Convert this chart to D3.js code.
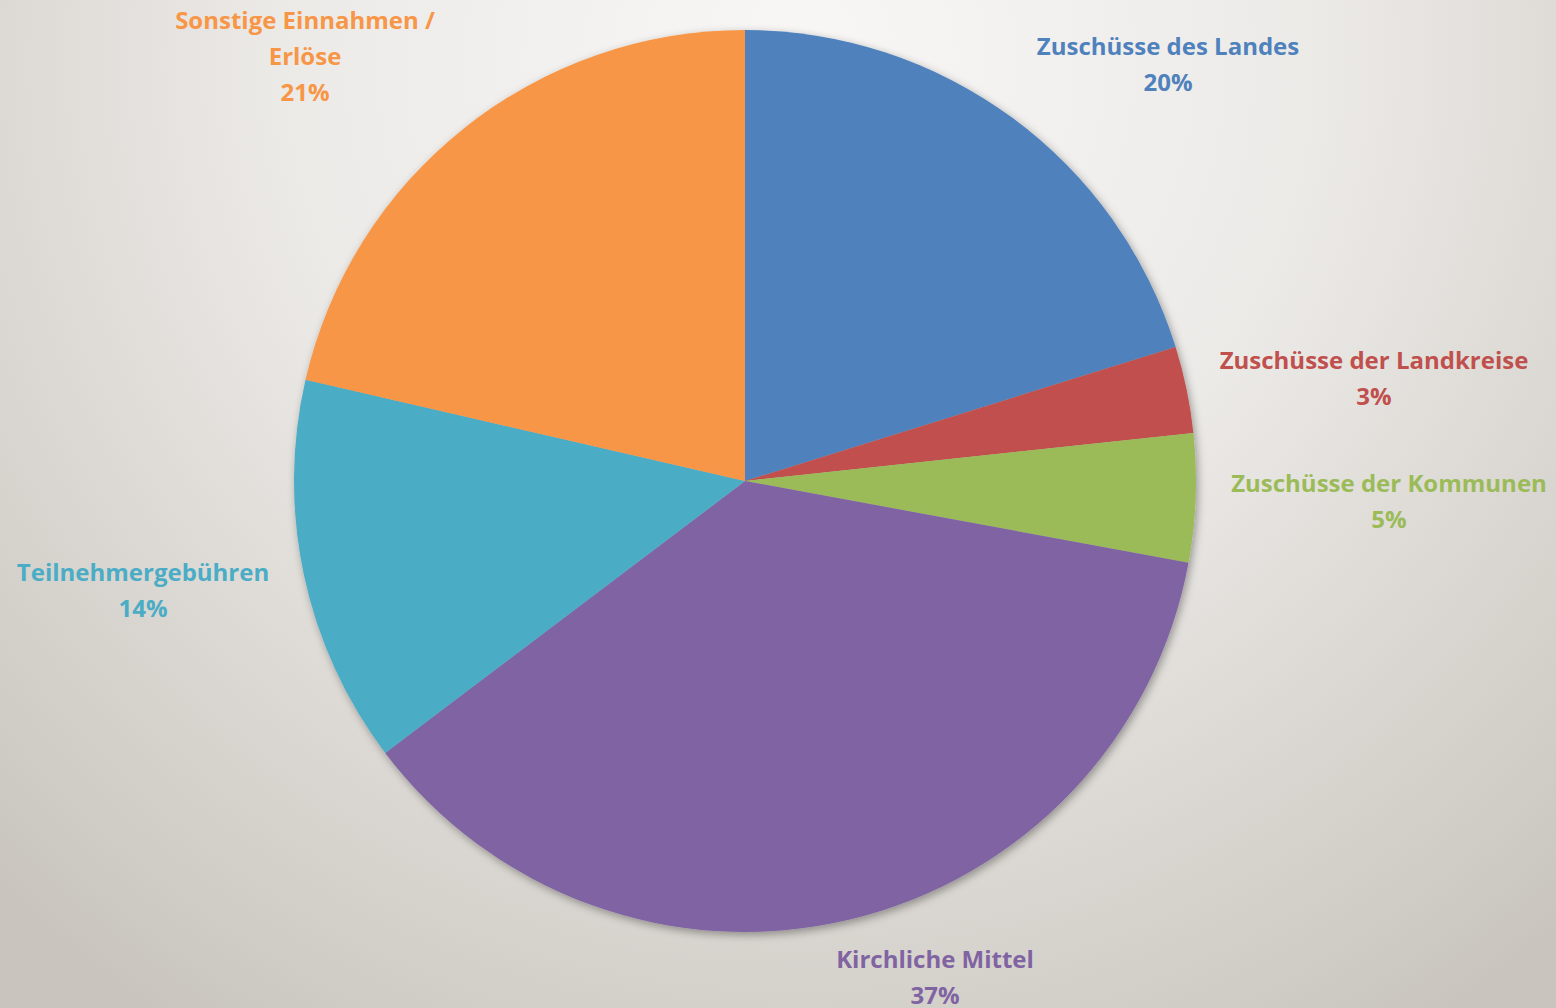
<!DOCTYPE html>
<html lang="de">
<head>
    <meta charset="UTF-8">
    <title>Einnahmen</title>
    <script src="https://d3js.org/d3.v7.min.js"></script>
    <style>
        html, body { margin: 0; padding: 0; overflow: hidden; }
        text { font-family: "Open Sans", Lato, sans-serif; font-weight: bold; }
    </style>
</head>
<body>
    <div id="chart"></div>
    <script>
        // data
        const categories = ["Zuschüsse des Landes", "Zuschüsse der Landkreise", "Zuschüsse der Kommunen",
            "Kirchliche Mittel", "Teilnehmergebühren", "Sonstige Einnahmen / Erlöse"];
        const shares = [20.2, 3.1, 4.6, 36.8, 13.9, 21.4];
        const percentLabels = ["20%", "3%", "5%", "37%", "14%", "21%"];

        const colors = ["#4f81bd", "#c0504d", "#9bbb59", "#8064a2", "#4bacc6", "#f79646"];

        const width = 1556, height = 1008;
        const cx = 745, cy = 481, radius = 451;

        // label text lines and anchor (relative to pie center, middle of text block)
        const labelLines = [
            ["Zuschüsse des Landes"],
            ["Zuschüsse der Landkreise"],
            ["Zuschüsse der Kommunen"],
            ["Kirchliche Mittel"],
            ["Teilnehmergebühren"],
            ["Sonstige Einnahmen /", "Erlöse"]
        ];
        const labelAt = [[423, -416], [629, -102], [644, 21], [190, 497], [-602, 110], [-440, -424]];

        const svg = d3.select("#chart")
            .append("svg")
            .attr("width", width)
            .attr("height", height);

        const defs = svg.append("defs");
        const grad = defs.append("radialGradient")
            .attr("id", "bg")
            .attr("gradientUnits", "userSpaceOnUse")
            .attr("cx", 800).attr("cy", 60).attr("r", 1150);
        grad.append("stop").attr("offset", 0).attr("stop-color", "#f8f7f6");
        grad.append("stop").attr("offset", 0.45).attr("stop-color", "#eceae7");
        grad.append("stop").attr("offset", 1).attr("stop-color", "#c9c5be");

        const shadow = defs.append("filter")
            .attr("id", "shadow")
            .attr("x", "-10%").attr("y", "-10%").attr("width", "120%").attr("height", "120%");
        shadow.append("feDropShadow")
            .attr("dx", 2).attr("dy", 3)
            .attr("stdDeviation", 4)
            .attr("flood-color", "#000")
            .attr("flood-opacity", 0.35);

        svg.append("rect")
            .attr("width", width)
            .attr("height", height)
            .attr("fill", "url(#bg)");

        const pie = d3.pie().sort(null).value(d => d);
        const arc = d3.arc().innerRadius(0).outerRadius(radius);
        const arcs = pie(shares);

        const g = svg.append("g")
            .attr("transform", `translate(${cx},${cy})`);

        g.append("g")
            .attr("filter", "url(#shadow)")
            .selectAll("path")
            .data(arcs)
            .enter()
            .append("path")
            .attr("d", arc)
            .attr("fill", (d, i) => colors[i]);

        const lineH = 36;
        const labels = g.selectAll(".label")
            .data(arcs)
            .enter()
            .append("text")
            .attr("class", "label")
            .attr("text-anchor", "middle")
            .attr("font-size", 24)
            .attr("fill", (d, i) => colors[i]);

        labels.each(function (d, i) {
            const lines = labelLines[i].concat([percentLabels[i]]);
            const [lx, ly] = labelAt[i];
            const top = ly - (lines.length - 1) * lineH / 2;
            lines.forEach((t, j) => {
                d3.select(this).append("tspan")
                    .attr("x", lx)
                    .attr("y", top + j * lineH)
                    .attr("dy", "0.35em")
                    .text(t);
            });
        });
    </script>
</body>
</html>
